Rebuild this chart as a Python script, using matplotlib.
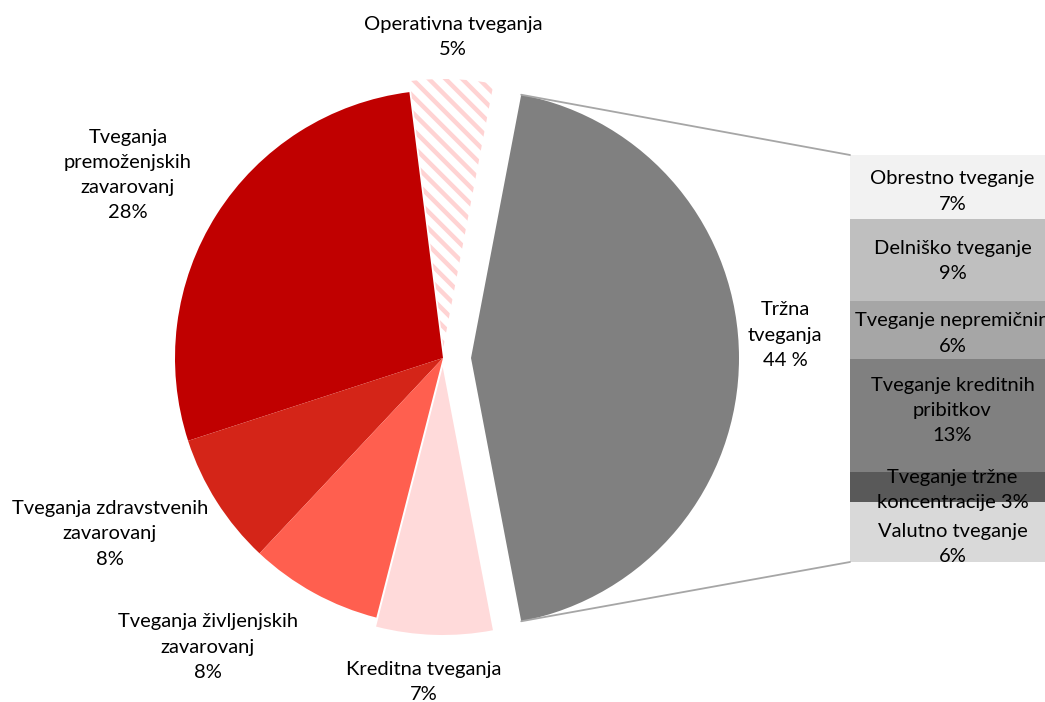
import matplotlib
matplotlib.use("Agg")
import matplotlib.pyplot as plt
from matplotlib.patches import ConnectionPatch
import numpy as np

# ---- data ----
pie_labels = ["Tržna\ntveganja\n44 %", "Operativna tveganja\n5%",
              "Tveganja\npremoženjskih\nzavarovanj\n28%",
              "Tveganja zdravstvenih\nzavarovanj\n8%",
              "Tveganja življenjskih\nzavarovanj\n8%",
              "Kreditna tveganja\n7%"]
pie_values = [44, 5, 28, 8, 8, 7]
pie_colors = ["#808080", "#FFFFFF", "#C00000", "#D42518", "#FF5F4F", "#FFDADA"]
pie_explode_px = [28, 11, 0, 0, 0, 9]

bar_labels = ["Obrestno tveganje\n7%", "Delniško tveganje\n9%",
              "Tveganje nepremičnin\n6%", "Tveganje kreditnih\npribitkov\n13%",
              "Tveganje tržne\nkoncentracije 3%", "Valutno tveganje\n6%"]
bar_values = [6.9, 8.9, 6.3, 12.2, 3.2, 6.5]
bar_colors = ["#F2F2F2", "#BFBFBF", "#A6A6A6", "#808080", "#595959", "#D9D9D9"]

plt.rcParams['font.family'] = ['Lato', 'DejaVu Sans']
plt.rcParams['hatch.linewidth'] = 3.2

W, H = 1045, 702
fig = plt.figure(figsize=(W / 100, H / 100), dpi=100)
ax = fig.add_axes([0, 0, 1, 1])

cx, cy, R = 443, H - 358, 268
start = -pie_values[0] / 100 * 360 / 2
wedges, _ = ax.pie(pie_values, explode=pie_explode_px, colors=pie_colors,
                   startangle=start, counterclock=True, center=(cx, cy),
                   radius=R, wedgeprops=dict(linewidth=0), frame=False)
# hatched operational slice
w_op = wedges[1]
w_op.set_hatch('\\\\')
w_op.set_edgecolor('#FFD3D3')
w_op.set_linewidth(0)

ax.set_xlim(0, W)
ax.set_ylim(0, H)
ax.set_aspect('equal')
ax.axis('off')

# pie labels (pixel positions, y from top)
fs = 14.5
ls = 1.58
pie_label_pos = [(785, 335), (453, 37), (128, 175), (110, 534), (208, 647), (424, 682)]
for lab, (x, y) in zip(pie_labels, pie_label_pos):
    ax.text(x, H - y, lab, ha='center', va='center', fontsize=fs,
            linespacing=ls, color='#000000')

# stacked bar
bx0, by_top, by_bot, bw = 850, 155, 562, 205
ax2 = fig.add_axes([bx0 / W, (H - by_bot) / H, bw / W, (by_bot - by_top) / H])
bottoms = np.concatenate([[0], np.cumsum(bar_values)[:-1]])
ax2.bar(0, bar_values, bottom=bottoms, width=1.0, color=bar_colors, linewidth=0)
ax2.set_xlim(-0.5, 0.5)
ax2.set_ylim(sum(bar_values), 0)
ax2.axis('off')
offsets = [0.5, 0.1, 0.35, -0.6, 0.3, 1.3]
for lab, b, v, off in zip(bar_labels, bottoms, bar_values, offsets):
    ax2.text(0.0, b + v / 2 + off, lab, ha='center', va='center', fontsize=fs,
             linespacing=ls, color='#000000', clip_on=False)

# connector lines from the market slice to the bar
wm = wedges[0]
ccx, ccy = wm.center
for ang, yb in [(wm.theta2, 0.0), (wm.theta1, 1.0)]:
    px = ccx + wm.r * np.cos(np.radians(ang))
    py = ccy + wm.r * np.sin(np.radians(ang))
    con = ConnectionPatch(xyA=(px, py), coordsA=ax.transData,
                          xyB=(0, 1 - yb), coordsB=ax2.transAxes,
                          color='#A6A6A6', lw=1.3)
    fig.add_artist(con)

fig.savefig("out.png", dpi=100)
